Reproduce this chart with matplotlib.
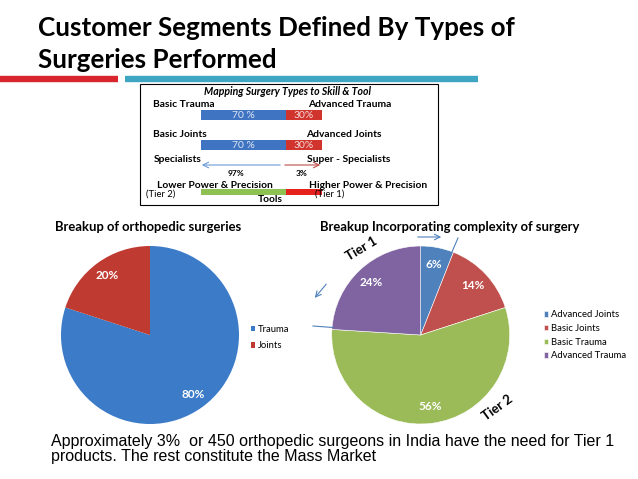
import matplotlib.pyplot as plt
import numpy as np

plt.rcParams['font.family'] = ['Lato', 'DejaVu Sans']

W, H = 638, 479

# mapping box: share of surgeries per segment
trauma_split = [70, 30]      # basic / advanced trauma
joint_split = [70, 30]       # basic / advanced joints
surgeon_split = [97, 3]      # specialists / super-specialists
tool_split = [70, 30]        # lower / higher power tools

# pies
breakup_labels = ['Trauma', 'Joints']
breakup_values = [80, 20]
breakup_colors = ['#3b7bc8', '#bf3a31']

complexity_labels = ['Advanced Joints', 'Basic Joints', 'Basic Trauma', 'Advanced Trauma']
complexity_values = [6, 14, 56, 24]
complexity_colors = ['#4f81bd', '#c0504d', '#9bbb59', '#8064a2']

BLUE = '#3f74c2'
RED = '#d0342c'

fig = plt.figure(figsize=(W / 100, H / 100), dpi=100)


def px_axes(x0, y0, x1, y1, **kw):
    # axes placed in pixel coordinates (origin top-left)
    return fig.add_axes([x0 / W, 1 - y1 / H, (x1 - x0) / W, (y1 - y0) / H], **kw)


# full-figure overlay for text and decorations
ax = px_axes(0, 0, W, H)
ax.set_xlim(0, W)
ax.set_ylim(H, 0)
ax.axis('off')

# slide title
ax.text(38, 36, 'Customer Segments Defined By Types of', fontsize=18.7,
        fontweight='bold', va='baseline')
ax.text(38, 68, 'Surgeries Performed', fontsize=18.7, fontweight='bold', va='baseline')
ax.plot([0, 118], [78.5, 78.5], color='#d9262e', lw=4.6, solid_capstyle='butt')
ax.plot([125, 478], [78.5, 78.5], color='#3ea5c2', lw=4.6, solid_capstyle='butt')

# mapping box
ax.add_patch(plt.Rectangle((140, 84), 298, 121, fill=False, ec='black', lw=0.8))
ax.text(288, 91, 'Mapping Surgery Types to Skill & Tool', fontsize=7.6,
        fontweight='bold', fontstyle='italic', ha='center', va='center')

lab = dict(fontsize=7.4, fontweight='bold', va='baseline')
ax.text(153, 107, 'Basic Trauma', **lab)
ax.text(308, 107, 'Advanced Trauma', **lab)
ax.text(153, 137, 'Basic Joints', **lab)
ax.text(306, 137, 'Advanced Joints', **lab)
ax.text(154, 162.5, 'Specialists', **lab)
ax.text(307, 162.5, 'Super - Specialists', **lab)
ax.text(157, 187.5, 'Lower Power & Precision', **lab)
ax.text(309, 187.5, 'Higher Power & Precision', **lab)
ax.text(270, 199.5, 'Tools', fontsize=7.4, fontweight='bold', ha='center', va='center')

# skill arrow
ax.annotate('', xy=(199, 165), xytext=(283, 165),
            arrowprops=dict(arrowstyle='->', color='#6d9bd6', lw=0.8))
ax.annotate('', xy=(323, 165), xytext=(282, 165),
            arrowprops=dict(arrowstyle='->', color='#c0504d', lw=0.8))

# bars inside the box (x in percent, y in pixels)
bx = px_axes(201, 84, 322, 205)
bx.set_xlim(0, 100)
bx.set_ylim(205, 84)
bx.axis('off')

rows = [(114.5, trauma_split), (144.5, joint_split)]
for y, split in rows:
    bx.barh(y, split[0], height=10, left=0, color=BLUE)
    bx.barh(y, split[1], height=10, left=split[0], color=RED)
    bx.text(split[0] / 2, y + 1, f'{split[0]} %', color='#dfe6f2', fontsize=7.4,
            ha='center', va='center')
    bx.text(split[0] + split[1] / 2, y + 1, f'{split[1]}%', color='#f3dcdc',
            fontsize=7.4, ha='center', va='center')

bx.text(29, 173, f'{surgeon_split[0]}%', fontsize=6, fontweight='bold',
        ha='center', va='center')
bx.text(83, 173, f'{surgeon_split[1]}%', fontsize=6, fontweight='bold',
        ha='center', va='center')

bx.barh(192, tool_split[0], height=6, left=0, color='#8dc153')
bx.barh(192, tool_split[1], height=6, left=tool_split[0], color='#e4211c')

ax.text(146, 194, '(Tier 2)', fontsize=6.8, va='center')
ax.text(315, 194, '(Tier 1)', fontsize=6.8, va='center', zorder=5)

# pie titles
ax.text(55, 230.5, 'Breakup of orthopedic surgeries', fontsize=9.4,
        fontweight='bold', va='baseline')
ax.text(320, 230.5, 'Breakup Incorporating complexity of surgery', fontsize=9.4,
        fontweight='bold', va='baseline')

# left pie
R = 89
p1 = px_axes(150 - R, 335 - R, 150 + R, 335 + R)
w1, _, t1 = p1.pie(breakup_values, colors=breakup_colors, startangle=90,
                   counterclock=False, autopct='%.0f%%', pctdistance=0.82,
                   textprops=dict(color='white', fontweight='bold', fontsize=8.5))
p1.set_xlim(-1, 1)
p1.set_ylim(-1, 1)
for w in w1:
    w.set_clip_on(False)
ax.legend(w1, breakup_labels, loc='upper left', bbox_to_anchor=(246, 320),
          bbox_transform=ax.transData, frameon=False, fontsize=6.8,
          handlelength=0.5, handleheight=0.5, handletextpad=0.3,
          labelspacing=0.8, borderpad=0)

# right pie
p2 = px_axes(420.7 - R, 335 - R, 420.7 + R, 335 + R)
w2, _, t2 = p2.pie(complexity_values, colors=complexity_colors, startangle=90,
                   counterclock=False, autopct='%.0f%%', pctdistance=0.81,
                   wedgeprops=dict(edgecolor='white', linewidth=0.4),
                   textprops=dict(color='white', fontweight='bold', fontsize=8.5))
p2.set_xlim(-1, 1)
p2.set_ylim(-1, 1)
for w in w2:
    w.set_clip_on(False)
fig.legend(w2, complexity_labels, loc='upper left', bbox_to_anchor=(539, 305.5),
           bbox_transform=ax.transData, frameon=False, fontsize=6.8,
           handlelength=0.5, handleheight=0.5, handletextpad=0.3,
           labelspacing=0.5, borderpad=0)

# tier markers around the right pie
arr = dict(arrowstyle='->', color='#4f81bd', lw=0.8)
ax.annotate('', xy=(444, 237), xytext=(415, 237), arrowprops=arr)
ax.annotate('', xy=(313, 300), xytext=(328, 282), arrowprops=arr)
ax.plot([451.5, 458], [253, 238], color='#4f81bd', lw=0.8)
ax.plot([313, 333], [326, 327.5], color='#4f81bd', lw=0.8)
ax.text(361.5, 248.5, 'Tier 1', fontsize=9.5, fontweight='bold', rotation=31,
        ha='center', va='center')
ax.text(497, 408, 'Tier 2', fontsize=9.5, fontweight='bold', rotation=36,
        ha='center', va='center')

# footnote
foot = dict(fontsize=11.5, family=['Liberation Sans Narrow', 'Liberation Sans'],
            va='baseline')
ax.text(51, 445.7, 'Approximately 3%  or 450 orthopedic surgeons in India have the need for Tier 1',
        **foot)
ax.text(51, 461, 'products. The rest constitute the Mass Market', **foot)

ax.set_zorder(3)
fig.savefig('out.png', dpi=100)
